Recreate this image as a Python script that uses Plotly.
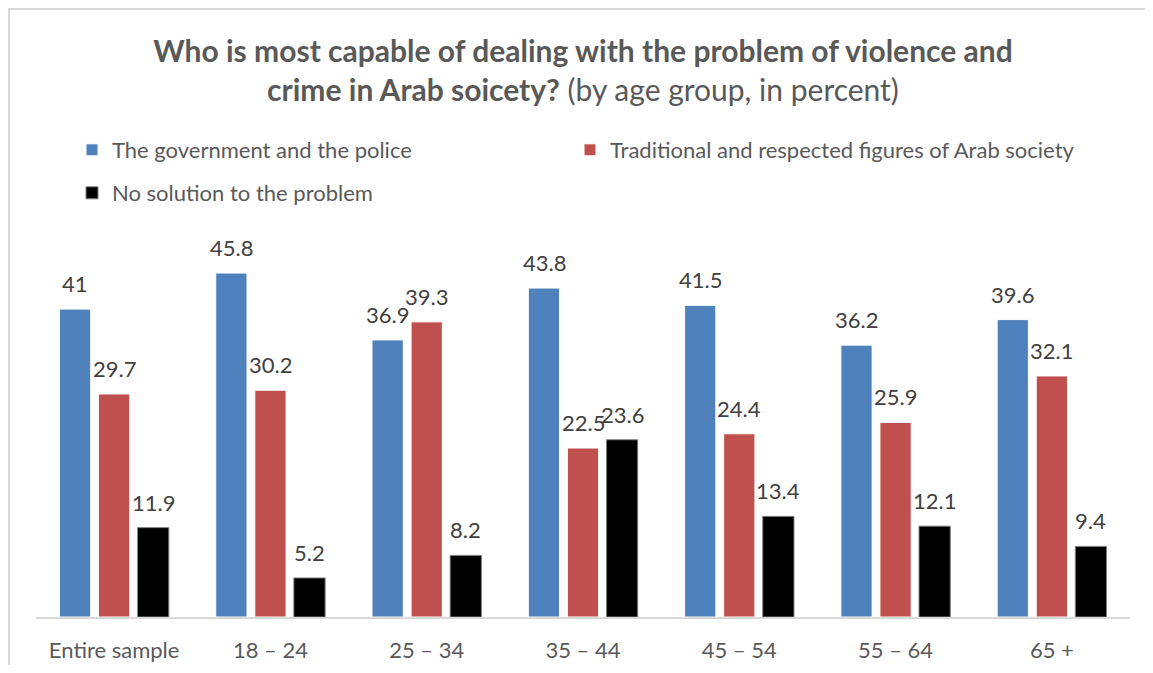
import plotly.graph_objects as go

categories = ["Entire sample", "18 – 24", "25 – 34", "35 – 44", "45 – 54", "55 – 64", "65 +"]
series_names = ["The government and the police",
                "Traditional and respected figures of Arab society",
                "No solution to the problem"]
government = [41, 45.8, 36.9, 43.8, 41.5, 36.2, 39.6]
traditional = [29.7, 30.2, 39.3, 22.5, 24.4, 25.9, 32.1]
no_solution = [11.9, 5.2, 8.2, 23.6, 13.4, 12.1, 9.4]

colors = ["#4F81BD", "#C0504D", "#000000"]
outlines = ["#FFFFFF", "#FFFFFF", "#7F7F7F"]
legend_ids = ["legend", "legend2", "legend3"]
values = [government, traditional, no_solution]

FONT = "Lato, Carlito, Calibri, sans-serif"

# figure is offset by the page's 8px body margin
W, H = 1137, 657
ml, mr, mt, mb = 28, 15, 222, 48
plot_w = W - ml - mr
plot_h = H - mt - mb
px_per_unit = 7.51
ymax = plot_h / px_per_unit
slot = 39  # px between bar centres within a group

fig = go.Figure()
annotations = []
for i, (name, vals, c, oc, lg) in enumerate(zip(series_names, values, colors, outlines, legend_ids)):
    fig.add_trace(go.Bar(
        x=categories, y=vals, name=name, legend=lg,
        marker=dict(color=c, line=dict(color=oc, width=1)),
        cliponaxis=False,
    ))
    for cat, v in zip(categories, vals):
        annotations.append(dict(
            x=cat, y=v, xref="x", yref="y", text=f"{v:g}", showarrow=False,
            xanchor="center", yanchor="bottom", xshift=(i - 1) * slot, yshift=10,
            font=dict(size=22, color="#404040", family=FONT),
        ))


def legend_at(left_px, top_px):
    return dict(
        orientation="h", x=left_px / plot_w, xanchor="left",
        y=(plot_h + mt - top_px) / plot_h, yanchor="top",
        font=dict(size=22, color="#595959", family=FONT),
        itemclick=False, bgcolor="rgba(0,0,0,0)",
    )


fig.update_layout(
    width=W, height=H,
    margin=dict(l=ml, r=mr, t=mt, b=mb, autoexpand=False),
    paper_bgcolor="white", plot_bgcolor="white",
    barmode="group", bargap=0.25, bargroupgap=0.2,
    font=dict(family=FONT, color="#595959"),
    title=dict(
        text="<b>Who is most capable of dealing with the problem of violence and</b><br>"
             "<b>crime in Arab soicety?</b> (by age group, in percent)",
        x=0.5, xanchor="center", xref="paper",
        y=1 - 54 / H, yanchor="top", yref="container",
        font=dict(size=30, color="#595959", family=FONT),
    ),
    legend=legend_at(36, 121),
    legend2=legend_at(534, 121),
    legend3=legend_at(36, 164),
    xaxis=dict(showline=True, linecolor="#D9D9D9", linewidth=2, ticks="",
               ticklabelstandoff=13, automargin=False,
               tickfont=dict(size=22, color="#595959", family=FONT),
               showgrid=False, fixedrange=True),
    yaxis=dict(range=[0, ymax], visible=False, showgrid=False, fixedrange=True,
               automargin=False),
    annotations=annotations,
    shapes=[dict(type="rect", xref="paper", yref="paper",
                 x0=(1 - ml) / plot_w, x1=(W + 30 - ml) / plot_w,
                 y0=(plot_h + mt - (H + 30)) / plot_h, y1=(plot_h + mt - 1) / plot_h,
                 line=dict(color="#D9D9D9", width=2), layer="below")],
    showlegend=True,
)

fig.write_html("out.html")
